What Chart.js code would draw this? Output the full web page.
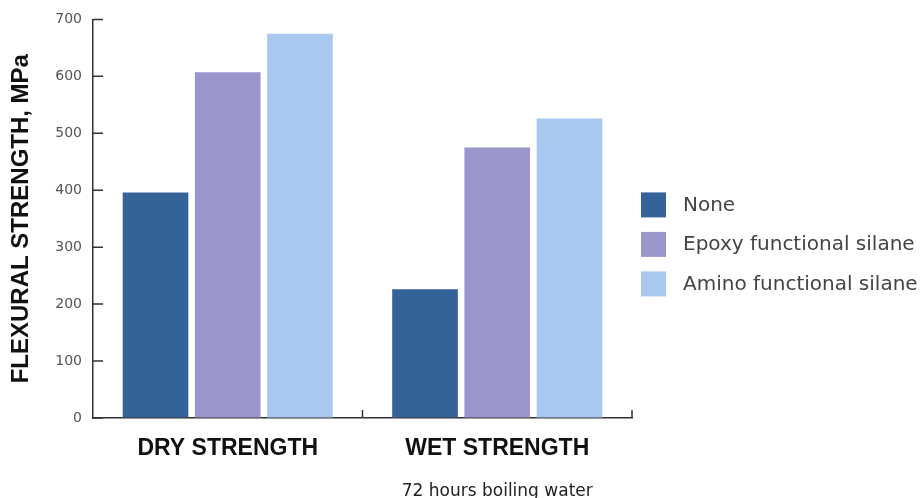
<!DOCTYPE html>
<html>
<head>
<meta charset="utf-8">
<script src="https://cdn.jsdelivr.net/npm/chart.js@4/dist/chart.umd.min.js"></script>
<style>
  html, body { margin: 0; padding: 0; background: #fff; }
  #wrap { width: 924px; height: 498px; position: relative; }
</style>
</head>
<body>
<div id="wrap"><canvas id="strengthChart"></canvas></div>
<script>
// data
const categories = ['DRY STRENGTH', 'WET STRENGTH'];
const subLabels = ['', '72 hours boiling water'];
const seriesNames = ['None', 'Epoxy functional silane', 'Amino functional silane'];
const noneValues = [396, 226];
const epoxyValues = [607, 475];
const aminoValues = [675, 526];
const yMin = 0;
const yMax = 700;
const yStep = 100;

const colors = ['#36629a', '#9a96cc', '#a9c8f0'];

// short tick marks pointing into the plot, like the original
const innerTicks = {
    id: 'innerTicks',
    afterDraw(chart) {
        const { ctx, scales: { x, y } } = chart;
        ctx.save();
        ctx.strokeStyle = '#333';
        ctx.lineWidth = 1.5;
        ctx.beginPath();
        y.ticks.forEach((t, i) => {
            const py = y.getPixelForTick(i);
            ctx.moveTo(y.right, py);
            ctx.lineTo(y.right + 10, py);
        });
        for (let i = 1; i <= x.ticks.length; i++) {
            const px = x.getPixelForValue(i - 0.5);
            ctx.moveTo(px, x.top);
            ctx.lineTo(px, x.top - 8);
        }
        ctx.stroke();
        ctx.restore();
    }
};

// legend drawn by hand so it can sit in the reserved right margin
const sideLegend = {
    id: 'sideLegend',
    afterDraw(chart) {
        const { ctx, chartArea } = chart;
        const x0 = chartArea.right + 9;
        const y0 = chartArea.top + 173;
        ctx.save();
        ctx.font = '20px "DejaVu Sans"';
        ctx.textBaseline = 'middle';
        ctx.textAlign = 'left';
        chart.data.datasets.forEach((ds, i) => {
            const y = y0 + i * 39.5;
            ctx.fillStyle = ds.backgroundColor;
            ctx.fillRect(x0, y, 25, 25);
            ctx.fillStyle = '#444';
            ctx.fillText(ds.label, x0 + 42, y + 13);
        });
        ctx.restore();
    }
};

const ctx = document.getElementById('strengthChart').getContext('2d');
new Chart(ctx, {
    type: 'bar',
    data: {
        labels: categories,
        datasets: [
            { label: seriesNames[0], data: noneValues, backgroundColor: colors[0] },
            { label: seriesNames[1], data: epoxyValues, backgroundColor: colors[1] },
            { label: seriesNames[2], data: aminoValues, backgroundColor: colors[2] }
        ]
    },
    options: {
        responsive: true,
        maintainAspectRatio: false,
        animation: false,
        categoryPercentage: 0.804,
        barPercentage: 0.909,
        layout: { padding: { top: 19, bottom: 0, left: 0, right: 292 } },
        plugins: {
            tooltip: { enabled: false },
            legend: { display: false }
        },
        scales: {
            x: {
                grid: { display: true, drawOnChartArea: false, drawTicks: false },
                border: { display: true, color: '#333', width: 1.5 },
                ticks: {
                    padding: 17,
                    color: '#111',
                    font: { family: 'Liberation Sans', size: 23, weight: 'bold', lineHeight: 1.2 }
                },
                afterFit(scale) { scale.height = 42; }
            },
            x2: {
                type: 'category',
                position: 'bottom',
                labels: subLabels,
                offset: true,
                grid: { display: false },
                border: { display: false },
                ticks: {
                    padding: 13,
                    color: '#222',
                    font: { family: 'DejaVu Sans', size: 17, lineHeight: 1.2 }
                },
                afterFit(scale) { scale.height = 38; }
            },
            y: {
                min: yMin,
                max: yMax,
                grid: { display: true, drawOnChartArea: false, drawTicks: false },
                border: { display: true, color: '#333', width: 1.5 },
                ticks: {
                    stepSize: yStep,
                    padding: 11,
                    color: '#555',
                    font: { family: 'DejaVu Sans', size: 14 }
                },
                title: {
                    display: true,
                    text: 'FLEXURAL STRENGTH, MPa',
                    color: '#111',
                    padding: { top: 7, bottom: 0 },
                    font: { family: 'Liberation Sans', size: 24, weight: 'bold', lineHeight: 1.2 }
                },
                afterFit(scale) { scale.width = 93; }
            }
        }
    },
    plugins: [innerTicks, sideLegend]
});
</script>
</body>
</html>
